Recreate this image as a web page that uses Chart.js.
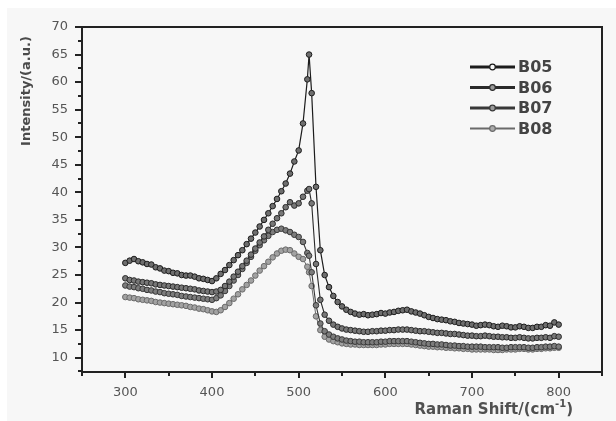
<!DOCTYPE html>
<html><head><meta charset="utf-8">
<script src="https://cdn.jsdelivr.net/npm/chart.js@4.4.0/dist/chart.umd.min.js"></script>
<style>html,body{margin:0;padding:0;background:#fff;}#wrap{width:616px;height:421px;}</style>
</head><body><div id="wrap"><canvas id="c" width="616" height="421"></canvas></div>
<script>
// Raman shift positions (cm^-1)
const ramanShift = [300,305,310,315,320,325,330,335,340,345,350,355,360,365,370,375,380,385,390,395,
  400,405,410,415,420,425,430,435,440,445,450,455,460,465,470,475,480,485,490,495,
  500,505,510,512,515,520,525,530,535,540,545,550,555,560,565,570,575,580,585,590,595,
  600,605,610,615,620,625,630,635,640,645,650,655,660,665,670,675,680,685,690,695,
  700,705,710,715,720,725,730,735,740,745,750,755,760,765,770,775,780,785,790,795,800];
const seriesNames = ['B05','B06','B07','B08'];
const b05 = [27.2,27.6,27.9,27.5,27.3,27.0,26.9,26.4,26.2,25.8,25.7,25.4,25.3,25.0,24.9,24.9,24.7,24.4,24.3,24.1,
  23.9,24.4,25.2,25.9,26.8,27.7,28.6,29.5,30.6,31.6,32.7,33.8,35.0,36.2,37.5,38.8,40.2,41.6,43.4,45.6,
  47.6,52.5,60.5,65.0,58.0,41.0,29.5,25.0,22.8,21.2,20.1,19.3,18.7,18.3,18.0,17.8,17.9,17.7,17.8,17.9,18.1,
  18.0,18.2,18.3,18.5,18.6,18.7,18.4,18.2,18.0,17.7,17.4,17.2,17.0,16.9,16.8,16.6,16.5,16.3,16.2,16.1,
  16.0,15.8,15.9,16.0,15.9,15.7,15.6,15.8,15.7,15.5,15.5,15.7,15.6,15.4,15.4,15.6,15.6,15.9,15.8,16.4,16.0];
const b06 = [24.4,24.1,24.0,23.8,23.7,23.6,23.5,23.3,23.2,23.1,23.0,22.9,22.8,22.7,22.6,22.5,22.4,22.2,22.1,22.0,
  21.9,22.0,22.3,23.0,23.8,24.7,25.6,26.6,27.6,28.7,29.8,30.9,32.0,33.2,34.3,35.3,36.2,37.3,38.2,37.6,
  38.0,39.2,40.3,40.6,38.0,27.0,20.5,17.8,16.7,16.0,15.6,15.3,15.1,15.0,14.9,14.8,14.7,14.7,14.8,14.8,14.9,
  14.9,15.0,15.0,15.1,15.1,15.1,15.0,14.9,14.8,14.8,14.7,14.6,14.5,14.5,14.4,14.3,14.3,14.2,14.1,14.0,
  14.0,13.9,13.9,14.0,13.9,13.8,13.8,13.7,13.7,13.6,13.6,13.7,13.6,13.5,13.5,13.6,13.6,13.7,13.6,13.9,13.8];
const b07 = [23.1,22.9,22.8,22.6,22.5,22.3,22.2,22.0,21.9,21.7,21.6,21.5,21.4,21.2,21.1,21.0,20.9,20.8,20.7,20.6,
  20.5,20.8,21.3,22.1,23.0,24.0,25.0,26.1,27.2,28.3,29.4,30.4,31.3,32.1,32.8,33.2,33.4,33.1,32.8,32.3,
  31.9,31.0,29.0,28.5,25.5,19.5,16.2,14.8,14.2,13.8,13.5,13.3,13.1,13.0,12.9,12.9,12.8,12.8,12.8,12.8,12.9,
  12.9,13.0,13.0,13.0,13.0,13.0,12.9,12.8,12.7,12.6,12.5,12.5,12.4,12.4,12.3,12.2,12.2,12.1,12.1,12.0,
  12.0,12.0,12.0,11.9,11.9,11.9,11.9,11.8,11.8,11.9,11.9,11.9,11.9,11.8,11.8,11.9,11.9,12.0,12.0,12.1,12.0];
const b08 = [21.0,20.9,20.8,20.6,20.5,20.4,20.3,20.1,20.0,19.9,19.8,19.7,19.6,19.5,19.4,19.2,19.1,18.9,18.8,18.6,
  18.4,18.3,18.6,19.2,19.9,20.7,21.5,22.4,23.2,24.0,24.9,25.8,26.6,27.4,28.2,28.9,29.4,29.6,29.5,28.9,
  28.3,27.9,26.5,25.5,23.0,17.5,15.0,13.8,13.3,13.0,12.8,12.6,12.5,12.4,12.4,12.3,12.3,12.3,12.3,12.3,12.4,
  12.4,12.5,12.5,12.5,12.5,12.5,12.4,12.3,12.2,12.1,12.0,12.0,11.9,11.9,11.8,11.8,11.7,11.7,11.6,11.6,
  11.5,11.5,11.5,11.5,11.5,11.4,11.4,11.4,11.5,11.5,11.5,11.6,11.6,11.5,11.5,11.6,11.6,11.7,11.7,11.8,11.8];
const xTickLabels = [300,400,500,600,700,800];
const xMinorTicks = [250,350,450,550,650,750,850];
const yTickLabels = [10,15,20,25,30,35,40,45,50,55,60,65,70];
const yMinorTicks = [7.5,12.5,17.5,22.5,27.5,32.5,37.5,42.5,47.5,52.5,57.5,62.5,67.5];

const styles = [
  {line:'#1c1c1c', fill:'#6e6e6e', lw:1.2, legLw:3.2, legFill:'#f7f7f7'},
  {line:'#2a2a2a', fill:'#777', lw:1.1, legLw:3.2, legFill:'#999'},
  {line:'#383838', fill:'#7c7c7c', lw:1.1, legLw:3.2, legFill:'#999'},
  {line:'#6a6a6a', fill:'#a2a2a2', lw:1.0, legLw:2, legFill:'#aaa'}
];
const allSeries = [b05,b06,b07,b08];

const datasets = allSeries.map((arr,i)=>({
  label: seriesNames[i],
  data: ramanShift.map((x,j)=>({x:x,y:arr[j]})),
  borderColor: styles[i].line,
  borderWidth: styles[i].lw,
  pointRadius: 2.8,
  pointBorderWidth: 1,
  pointBorderColor: styles[i].line,
  pointBackgroundColor: styles[i].fill,
  tension: 0,
  fill: false
}));

const deco = {
  id:'deco',
  beforeDraw(chart){
    const c = chart.ctx;
    c.save();
    c.fillStyle = '#ffffff'; c.fillRect(0,0,chart.width,chart.height);
    c.fillStyle = '#f7f7f7'; c.fillRect(7,8,chart.width-7,chart.height-8);
    c.restore();
  },
  afterDraw(chart){
    const ctx = chart.ctx, a = chart.chartArea, xs = chart.scales.x, ys = chart.scales.y;
    ctx.save();
    ctx.strokeStyle = '#222'; ctx.lineWidth = 2;
    ctx.strokeRect(a.left, a.top, a.right-a.left, a.bottom-a.top);
    ctx.beginPath();
    yTickLabels.forEach(v=>{const p=Math.round(ys.getPixelForValue(v)); ctx.moveTo(a.left-7,p); ctx.lineTo(a.left,p);});
    yMinorTicks.forEach(v=>{const p=Math.round(ys.getPixelForValue(v)); ctx.moveTo(a.left-4,p); ctx.lineTo(a.left,p);});
    xTickLabels.forEach(v=>{const p=Math.round(xs.getPixelForValue(v)); ctx.moveTo(p,a.bottom); ctx.lineTo(p,a.bottom+6);});
    xMinorTicks.forEach(v=>{const p=Math.round(xs.getPixelForValue(v)); ctx.moveTo(p,a.bottom); ctx.lineTo(p,a.bottom+4);});
    ctx.stroke();
    // y title
    ctx.fillStyle = '#4a4a4a';
    ctx.font = 'bold 13px "DejaVu Sans"';
    ctx.save();
    ctx.translate(27, 91);
    ctx.rotate(-Math.PI/2);
    ctx.textAlign = 'center'; ctx.textBaseline = 'middle';
    ctx.fillText('Intensity/(a.u.)', 0, 0);
    ctx.restore();
    // x title with superscript
    const main = 'Raman Shift/(cm', sup = '-1', tail = ')';
    ctx.fillStyle = '#505050';
    ctx.font = 'bold 15px "DejaVu Sans"';
    const w1 = ctx.measureText(main).width, w3 = ctx.measureText(tail).width;
    ctx.font = 'bold 10px "DejaVu Sans"';
    const w2 = ctx.measureText(sup).width;
    let x0 = 573 - (w1+w2+w3);
    const base = 414;
    ctx.textAlign = 'left'; ctx.textBaseline = 'alphabetic';
    ctx.font = 'bold 15px "DejaVu Sans"'; ctx.fillText(main, x0, base);
    ctx.font = 'bold 10px "DejaVu Sans"'; ctx.fillText(sup, x0+w1, base-7);
    ctx.font = 'bold 15px "DejaVu Sans"'; ctx.fillText(tail, x0+w1+w2, base);
    // legend
    chart.data.datasets.forEach((d,i)=>{
      const yy = 67 + i*20.5;
      ctx.strokeStyle = styles[i].line; ctx.lineWidth = styles[i].legLw;
      ctx.beginPath(); ctx.moveTo(470,yy); ctx.lineTo(515,yy); ctx.stroke();
      ctx.beginPath(); ctx.arc(492.5,yy,2.8,0,Math.PI*2);
      ctx.fillStyle = styles[i].legFill; ctx.fill();
      ctx.lineWidth = 1.2; ctx.strokeStyle = styles[i].line; ctx.stroke();
      ctx.fillStyle = '#444'; ctx.font = 'bold 16px "DejaVu Sans"';
      ctx.textAlign = 'left'; ctx.textBaseline = 'middle';
      ctx.fillText(d.label, 518, yy+1);
    });
    ctx.restore();
  }
};

new Chart(document.getElementById('c'), {
  type:'line',
  data:{datasets:datasets},
  plugins:[deco],
  options:{
    responsive:false, animation:false, events:[], devicePixelRatio:1,
    layout:{padding:{top:27,right:14,left:0,bottom:0}},
    plugins:{legend:{display:false}, tooltip:{enabled:false}},
    scales:{
      x:{type:'linear', min:250, max:850,
        afterBuildTicks:s=>{s.ticks = xTickLabels.map(v=>({value:v}));},
        afterFit:s=>{s.height = 49;},
        grid:{display:false, drawTicks:false}, border:{display:false},
        ticks:{padding:13, color:'#555', font:{family:'DejaVu Sans', size:13}, maxRotation:0, autoSkip:false}
      },
      y:{type:'linear', min:7.4, max:70,
        afterBuildTicks:s=>{s.ticks = yTickLabels.map(v=>({value:v}));},
        afterFit:s=>{s.width = 82;},
        grid:{display:false, drawTicks:false}, border:{display:false},
        ticks:{padding:14, color:'#555', font:{family:'DejaVu Sans', size:13}, autoSkip:false}
      }
    }
  }
});
</script>
</body></html>
